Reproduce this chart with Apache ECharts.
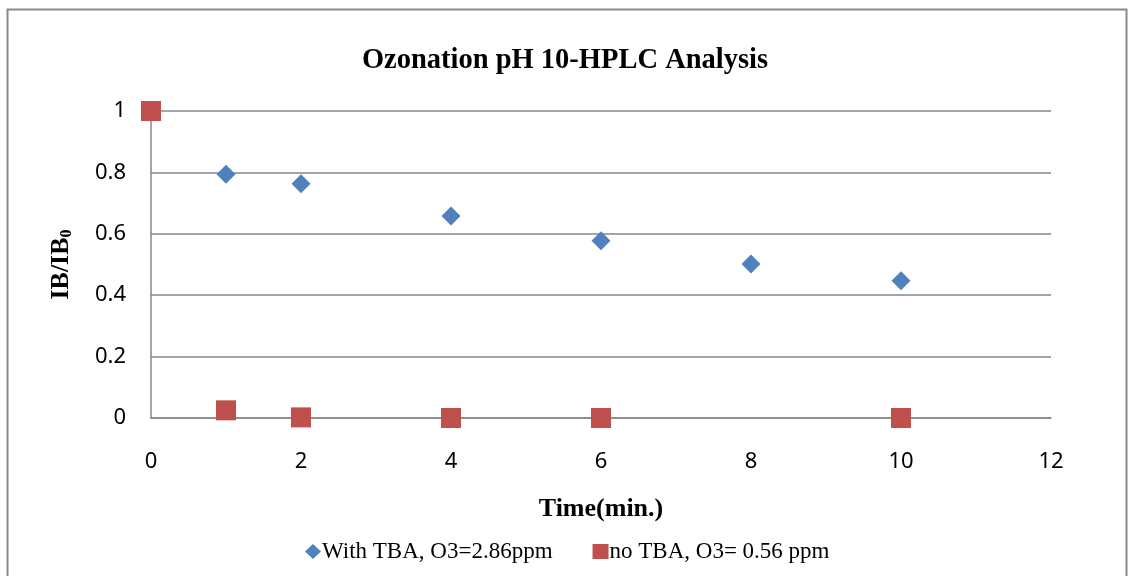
<!DOCTYPE html>
<html>
<head>
<meta charset="utf-8">
<script src="https://cdn.jsdelivr.net/npm/echarts@6/dist/echarts.min.js"></script>
<style>
html,body{margin:0;padding:0;background:#fff;}
#chart{width:1128px;height:576px;}
</style>
</head>
<body>
<div id="chart"></div>
<script>
var titleText = 'Ozonation pH 10-HPLC Analysis';
var xName = 'Time(min.)';
var seriesNames = ['With TBA, O3=2.86ppm', 'no TBA, O3= 0.56 ppm'];
var withTBA_x = [0, 1, 2, 4, 6, 8, 10];
var withTBA_y = [1, 0.794, 0.763, 0.658, 0.577, 0.502, 0.447];
var noTBA_x = [0, 1, 2, 4, 6, 10];
var noTBA_y = [1, 0.025, 0.002, 0, 0, 0];

function pairs(xs, ys){ return xs.map(function(x,i){ return [x, ys[i]]; }); }

var chart = echarts.init(document.getElementById('chart'));
var axisColor = '#878787';
chart.setOption({
  animation: false,
  backgroundColor: '#fff',
  title: {
    text: titleText,
    left: 560, top: 41, textAlign: 'center',
    textStyle: {fontFamily: 'Liberation Serif', fontWeight: 'bold', fontSize: 28.5, color: '#000'}
  },
  graphic: [{
    type: 'rect', silent: true,
    shape: {x: 7.5, y: 9.5, width: 1119, height: 600},
    style: {fill: 'none', stroke: '#8a8a8a', lineWidth: 2}
  }],
  grid: {left: 151, right: 77, top: 111, bottom: 158, containLabel: false},
  legend: {
    bottom: 13, left: 305, padding: 0,
    itemGap: 40, itemWidth: 16, itemHeight: 15,
    textStyle: {fontFamily: 'Liberation Serif', fontSize: 23, color: '#000', padding: [0,0,0,-4]},
    data: [{name: seriesNames[0], icon: 'diamond'}, {name: seriesNames[1], icon: 'rect'}]
  },
  xAxis: {
    type: 'value', min: 0, max: 12, interval: 2,
    name: xName, nameLocation: 'middle', nameGap: 78,
    nameTextStyle: {fontFamily: 'Liberation Serif', fontWeight: 'bold', fontSize: 26, color: '#000'},
    axisLine: {show: true, lineStyle: {color: axisColor, width: 1.5}},
    axisTick: {show: false},
    splitLine: {show: false},
    axisLabel: {margin: 33, fontFamily: 'Noto Sans', fontSize: 22, color: '#000'}
  },
  yAxis: {
    type: 'value', min: 0, max: 1, interval: 0.2,
    name: '{a|IB/IB}{s|0}', nameLocation: 'middle', nameGap: 76,
    nameTextStyle: {
      rich: {
        a: {fontFamily: 'Liberation Serif', fontWeight: 'bold', fontSize: 26, color: '#000'},
        s: {fontFamily: 'Liberation Serif', fontWeight: 'bold', fontSize: 16, color: '#000', padding: [12,0,0,0]}
      }
    },
    axisLine: {show: true, lineStyle: {color: axisColor, width: 1.5}},
    axisTick: {show: false},
    splitLine: {show: true, lineStyle: {color: axisColor, width: 1.5}},
    axisLabel: {margin: 25, fontFamily: 'Noto Sans', fontSize: 22, color: '#000'}
  },
  series: [{
    name: seriesNames[0], type: 'scatter', symbol: 'diamond', symbolSize: 19,
    itemStyle: {color: '#4F81BD', opacity: 1},
    data: pairs(withTBA_x, withTBA_y), z: 2
  }, {
    name: seriesNames[1], type: 'scatter', symbol: 'rect', symbolSize: 20,
    itemStyle: {color: '#C0504D', opacity: 1},
    data: pairs(noTBA_x, noTBA_y), z: 3
  }]
});
</script>
</body>
</html>
